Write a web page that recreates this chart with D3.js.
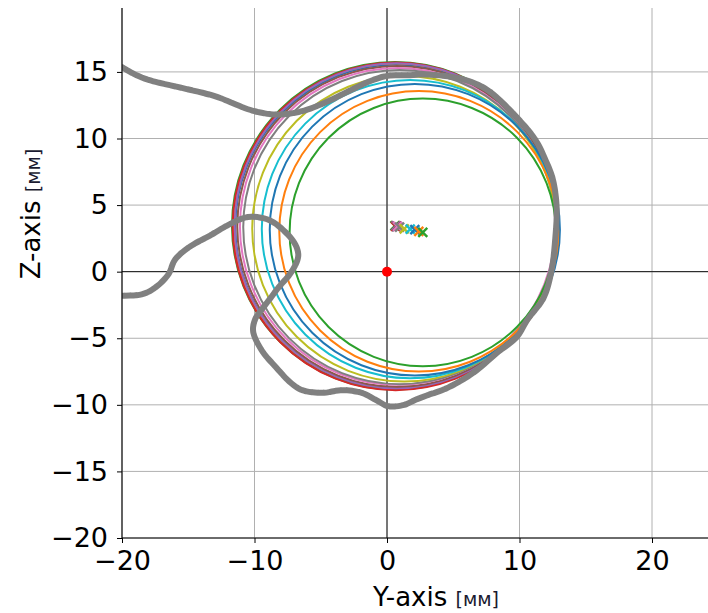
<!DOCTYPE html>
<html><head><meta charset="utf-8">
<script src="https://cdn.jsdelivr.net/npm/d3@7"></script>
<style>body{margin:0;background:#fff}svg{display:block}text{font-family:"DejaVu Sans",sans-serif}</style>
</head><body>
<svg id="c" width="708" height="613"></svg>
<script>
// circle fits: colour, centre Y, centre Z, radius (mm)
const circleColors = ["#1f77b4","#ff7f0e","#2ca02c","#d62728","#9467bd","#8c564b","#e377c2","#7f7f7f","#bcbd22","#17becf","#1f77b4","#ff7f0e","#2ca02c"];
const circleCY = [0.70,0.65,0.60,0.65,0.70,0.75,0.80,0.95,1.30,1.75,2.10,2.40,2.70];
const circleCZ = [3.40,3.45,3.45,3.40,3.45,3.40,3.40,3.35,3.22,3.20,3.15,3.03,2.95];
const circleR  = [12.15,12.20,12.30,12.30,12.20,12.05,11.90,11.80,11.47,11.20,10.95,10.53,10.05];
// measured trajectory (gray)
const pathY = [-20,-19,-18,-15.5,-13,-10.5,-9.46,-8.2,-6.4,-4.45,-2.9,-1.3,0,1.5,3.2,5.7,7.5,9.5,11.2,12.0,12.5,12.8,12.7,12.4,11.8,10.6,9.8,8.3,6.5,4.5,3.0,2.2,1.3,0.1,-0.9,-1.9,-3.4,-4.9,-6.4,-7.2,-8.45,-9.46,-10.1,-9.96,-9.46,-8.7,-8.2,-7.2,-6.7,-6.9,-7.7,-8.95,-10.5,-12.0,-13.2,-15.0,-16.0,-16.5,-17.5,-18.5,-20];
const pathZ = [15.36,14.8,14.4,13.8,13.18,12.2,11.93,11.8,12.05,12.8,13.55,14.3,14.7,14.75,14.8,14.45,13.7,11.9,9.9,8.3,7.0,4.9,2.5,0,-2.0,-3.6,-4.9,-6.1,-7.6,-8.75,-9.3,-9.6,-10.0,-10.1,-9.6,-9.1,-8.9,-9.1,-8.9,-8.4,-7.1,-5.9,-4.5,-3.6,-2.86,-1.86,-1.2,0.0,1.15,2.0,3.0,3.9,4.1,3.5,2.8,1.8,0.9,-0.2,-1.2,-1.7,-1.8];
const xTicks = [-20,-10,0,10,20];
const yTicks = [-20,-15,-10,-5,0,5,10,15];
const origin = [0,0];

const L=122, R=708, T=8, B=538;
const x = d3.scaleLinear().domain([-20, -20+(R-L)/13.25]).range([L,R]);
const y = d3.scaleLinear().domain([-20, 19.8]).range([B,T]);
const svg = d3.select("#c");
const fmt = d => d<0 ? "\u2212"+Math.abs(d) : ""+d;

svg.append("defs").append("clipPath").attr("id","clip").append("rect")
  .attr("x",L).attr("y",T).attr("width",R-L).attr("height",B-T);

// grid
const g = svg.append("g");
g.selectAll(".gx").data(xTicks).join("line").attr("x1",d=>x(d)).attr("x2",d=>x(d)).attr("y1",T).attr("y2",B)
  .attr("stroke","#b0b0b0").attr("stroke-width",1);
g.selectAll(".gy").data(yTicks).join("line").attr("y1",d=>y(d)).attr("y2",d=>y(d)).attr("x1",L).attr("x2",R)
  .attr("stroke","#b0b0b0").attr("stroke-width",1);
g.append("line").attr("x1",x(0)).attr("x2",x(0)).attr("y1",T).attr("y2",B).attr("stroke","#000").attr("stroke-width",0.9);
g.append("line").attr("y1",y(0)).attr("y2",y(0)).attr("x1",L).attr("x2",R).attr("stroke","#000").attr("stroke-width",0.9);

const plot = svg.append("g").attr("clip-path","url(#clip)");
const idx = d3.range(circleColors.length);
plot.selectAll(".circ").data(idx).join("ellipse")
  .attr("cx",i=>x(circleCY[i])).attr("cy",i=>y(circleCZ[i]))
  .attr("rx",i=>x(circleR[i])-x(0)).attr("ry",i=>y(0)-y(circleR[i]))
  .attr("fill","none").attr("stroke",i=>circleColors[i]).attr("stroke-width",2);

const line = d3.line().x(i=>x(pathY[i])).y(i=>y(pathZ[i])).curve(d3.curveCatmullRom);
plot.append("path").attr("d",line(d3.range(pathY.length))).attr("fill","none")
  .attr("stroke","#808080").attr("stroke-width",6).attr("stroke-linejoin","round").attr("stroke-linecap","round")
  .attr("stroke-dasharray","5 0.8");

const s=4.5;
plot.selectAll(".mk").data(idx).join("path")
  .attr("d",i=>{const cx=x(circleCY[i]), cy=y(circleCZ[i]);
    return `M${cx-s},${cy-s}L${cx+s},${cy+s}M${cx-s},${cy+s}L${cx+s},${cy-s}`;})
  .attr("stroke",i=>circleColors[i]).attr("stroke-width",2.4).attr("fill","none");

plot.append("circle").attr("cx",x(origin[0])).attr("cy",y(origin[1])).attr("r",5).attr("fill","#ff0000");

const ax = svg.append("g").attr("transform",`translate(0,${B})`).call(d3.axisBottom(x).tickValues(xTicks).tickFormat(fmt).tickSize(5).tickPadding(8));
const ay = svg.append("g").attr("transform",`translate(${L},0)`).call(d3.axisLeft(y).tickValues(yTicks).tickFormat(fmt).tickSize(5).tickPadding(9));
[ax,ay].forEach(a=>{a.select(".domain").attr("stroke","#000").attr("stroke-width",1.1);
  a.selectAll(".tick line").attr("stroke","#000");
  a.selectAll("text").attr("font-size",27).attr("fill","#000").attr("font-family","DejaVu Sans");});
ay.select(".domain").attr("d",`M0,${T}V${B}`);
ax.select(".domain").attr("d",`M${L},0H${R}`);

const xl = svg.append("text").attr("x",436).attr("y",606).attr("text-anchor","middle").attr("fill","#000");
xl.append("tspan").attr("font-size",26).text("Y-axis ");
xl.append("tspan").attr("font-size",19).attr("fill","#1a1a30").text("[мм]");
const yl = svg.append("text").attr("transform","translate(40,214) rotate(-90)").attr("text-anchor","middle").attr("fill","#000");
yl.append("tspan").attr("font-size",26).text("Z-axis ");
yl.append("tspan").attr("font-size",19).attr("fill","#1a1a30").text("[мм]");
</script>
</body></html>
